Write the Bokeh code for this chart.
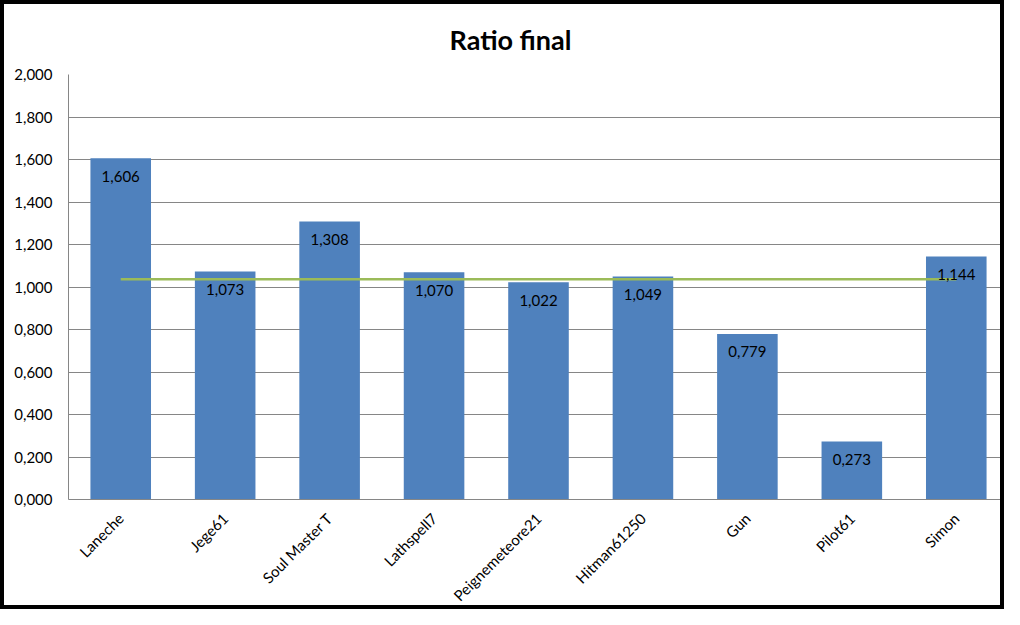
from bokeh.plotting import figure
from bokeh.models import ColumnDataSource, FixedTicker, CustomJSTickFormatter
from bokeh.core.properties import value
from bokeh.embed import file_html
from bokeh.resources import INLINE
import math

names = ["Laneche", "Jege61", "Soul Master T", "Lathspell7", "Peignemeteore21",
         "Hitman61250", "Gun", "Pilot61", "Simon"]
ratios = [1.606, 1.073, 1.308, 1.070, 1.022, 1.049, 0.779, 0.273, 1.144]
labels = ["1,606", "1,073", "1,308", "1,070", "1,022", "1,049", "0,779", "0,273", "1,144"]
average = [1.036, 1.036, 1.036, 1.036, 1.036, 1.036, 1.036, 1.036, 1.036]
y_ticks = [0.0, 0.2, 0.4, 0.6, 0.8, 1.0, 1.2, 1.4, 1.6, 1.8, 2.0]
title_text = "Ratio final"

FONT = "Lato"

src = ColumnDataSource(dict(name=names, ratio=ratios, label=labels, avg=average))

p = figure(x_range=names, y_range=(0, 2.0), width=1004, height=609,
           output_backend="svg", toolbar_location=None, title=title_text,
           min_border_left=64, min_border_right=0, min_border_top=70, min_border_bottom=112)
p.styles = {"border": "4px solid black", "box-sizing": "border-box"}

p.title.align = "left"
p.title.vertical_align = "top"
p.title.offset = 381
p.title.standoff = 34
p.title.text_font = FONT
p.title.text_font_size = "27px"
p.title.text_font_style = "bold"
p.title.text_color = "black"

p.vbar(x="name", top="ratio", width=0.58, source=src, fill_color="#4F81BD", line_color=None)
p.line(x="name", y="avg", source=src, line_color="#9BBB59", line_width=2.5)
p.text(x="name", y="ratio", text="label", source=src, text_align="center",
       text_baseline="middle", y_offset=18, text_font=value(FONT), text_font_size="15px",
       text_color="black")

p.outline_line_color = None
p.xgrid.grid_line_color = None
p.ygrid.grid_line_color = "#868686"
p.ygrid.ticker = FixedTicker(ticks=y_ticks)

p.yaxis.ticker = FixedTicker(ticks=y_ticks)
p.yaxis.formatter = CustomJSTickFormatter(code="return tick.toFixed(3).replace('.', ',');")
p.yaxis.major_tick_line_color = None
p.yaxis.minor_tick_line_color = None
p.yaxis.axis_line_color = "#868686"
p.yaxis.major_label_standoff = 10
p.yaxis.major_label_text_font = FONT
p.yaxis.major_label_text_font_size = "15px"
p.yaxis.major_label_text_color = "black"

p.xaxis.major_tick_line_color = None
p.xaxis.axis_line_color = "#868686"
p.xaxis.major_label_orientation = math.pi / 4
p.xaxis.major_label_standoff = 10
p.xaxis.major_label_text_font = FONT
p.xaxis.major_label_text_font_size = "15px"
p.xaxis.major_label_text_color = "black"

p.x_range.range_padding = 0

open("out.html", "w").write(file_html(p, INLINE))
